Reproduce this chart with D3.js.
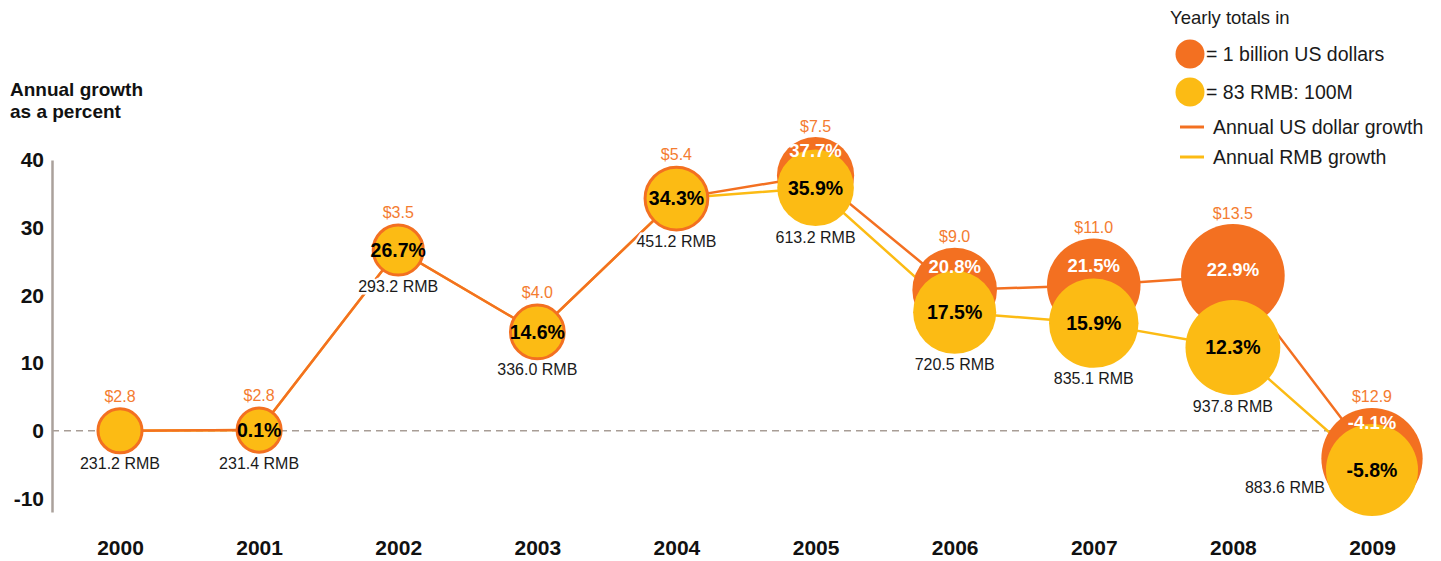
<!DOCTYPE html>
<html>
<head>
<meta charset="utf-8">
<script src="https://cdn.jsdelivr.net/npm/d3@7"></script>
<style>
  body { margin: 0; background: #fff; }
  svg { display: block; font-family: "Liberation Sans", Arial, sans-serif; }
</style>
</head>
<body>
<svg id="chart" width="1441" height="561"></svg>
<script>
// values
const years = [2000, 2001, 2002, 2003, 2004, 2005, 2006, 2007, 2008, 2009];
const usdGrowth = [0, 0.1, 26.7, 14.6, 34.3, 37.7, 20.8, 21.5, 22.9, -4.1];
const rmbGrowth = [0, 0.1, 26.7, 14.6, 34.3, 35.9, 17.5, 15.9, 12.3, -5.8];
const usdTotals = [2.8, 2.8, 3.5, 4.0, 5.4, 7.5, 9.0, 11.0, 13.5, 12.9];   // billion US dollars
const rmbTotals = [231.2, 231.4, 293.2, 336.0, 451.2, 613.2, 720.5, 835.1, 937.8, 883.6]; // RMB 100M
const yTicks = [-10, 0, 10, 20, 30, 40];
const rmbPerBillion = 83;

const orange = '#f37021';
const yellow = '#fcbb14';
const orangeText = '#f47c30';

const svg = d3.select('#chart');

const x = d3.scalePoint().domain(years).range([120, 1372]);
const y = d3.scaleLinear().domain([-12, 40]).range([512, 160]);
const r = d3.scaleSqrt().domain([0, 1]).range([0, 14.1]);

const rows = years.map((yr, i) => ({
	year: yr,
	usd: usdGrowth[i],
	rmb: rmbGrowth[i],
	usdTotal: usdTotals[i],
	rmbTotal: rmbTotals[i],
	first: i === 0,
	same: usdGrowth[i] === rmbGrowth[i]
}));
rows.forEach(d => {
	d.cx = x(d.year);
	d.oy = y(d.usd);
	d.yy = y(d.rmb);
	d.or = r(d.usdTotal);
	d.yr = r(d.rmbTotal / rmbPerBillion);
	if (d.same) d.yr -= 1.5; // yellow sits inside the orange ring
});

// axis title
svg.append('text')
	.attr('x', 10).attr('y', 96)
	.style('font-weight', 'bold').style('font-size', '19px').attr('fill', '#111')
	.selectAll('tspan')
	.data(['Annual growth', 'as a percent'])
	.join('tspan')
	.attr('x', 10)
	.attr('dy', (d, i) => i ? 22 : 0)
	.text(d => d);

// zero line
svg.append('line')
	.attr('x1', 52).attr('x2', x(2009))
	.attr('y1', y(0)).attr('y2', y(0))
	.attr('stroke', '#a89d96').attr('stroke-width', 1.6)
	.attr('stroke-dasharray', '7,5');

// y axis
const yAxis = svg.append('g')
	.attr('transform', 'translate(52,0)')
	.call(d3.axisLeft(y).tickValues(yTicks).tickSize(0).tickSizeOuter(0).tickPadding(8).tickFormat(d3.format('d')));
yAxis.select('.domain').attr('stroke', '#aaa19b').attr('stroke-width', 2.5);
yAxis.selectAll('text')
	.attr('font-family', '"Liberation Sans", Arial, sans-serif')
	.style('font-size', '21px').style('font-weight', 'bold').attr('fill', '#111')
	.text(d => d < 0 ? '-' + Math.abs(d) : d);

// x axis (years)
const xAxis = svg.append('g')
	.attr('transform', 'translate(0,540)')
	.call(d3.axisBottom(x).tickSize(0).tickPadding(0));
xAxis.select('.domain').remove();
xAxis.selectAll('text')
	.attr('font-family', '"Liberation Sans", Arial, sans-serif')
	.style('font-size', '21px').style('font-weight', 'bold').attr('fill', '#111');

// growth lines, behind the circles
const rmbLine = d3.line().x(d => d.cx).y(d => d.yy);
const usdLine = d3.line().x(d => d.cx).y(d => d.oy);
svg.append('path').datum(rows).attr('d', rmbLine)
	.attr('fill', 'none').attr('stroke', yellow).attr('stroke-width', 2.5);
svg.append('path').datum(rows).attr('d', usdLine)
	.attr('fill', 'none').attr('stroke', orange).attr('stroke-width', 2.5);

// US dollar circles (when the growth is the same they show as the ring round the yellow)
svg.selectAll('.usd-dot')
	.data(rows.filter(d => !d.same))
	.join('circle')
	.attr('class', 'usd-dot')
	.attr('cx', d => d.cx).attr('cy', d => d.oy)
	.attr('r', d => d.or)
	.attr('fill', orange);

// RMB circles
svg.selectAll('.rmb-dot')
	.data(rows)
	.join('circle')
	.attr('class', 'rmb-dot')
	.attr('cx', d => d.cx).attr('cy', d => d.yy)
	.attr('r', d => d.yr)
	.attr('fill', yellow)
	.attr('stroke', d => d.same ? orange : 'none')
	.attr('stroke-width', 3);

// dollar totals above the orange circle
svg.selectAll('.usd-total')
	.data(rows)
	.join('text')
	.attr('class', 'usd-total')
	.attr('x', d => d.cx).attr('y', d => d.oy - d.or - 11)
	.attr('dy', '0.35em')
	.attr('text-anchor', 'middle')
	.style('font-size', '16px').attr('fill', orangeText)
	.text(d => '$' + d.usdTotal.toFixed(1));

// RMB totals under the yellow circle (left of it if no room below)
const plotBottom = y(-10);
svg.selectAll('.rmb-total')
	.data(rows)
	.join('text')
	.attr('class', 'rmb-total')
	.each(function (d) {
		const below = d.yy + d.yr + 11 < plotBottom;
		d3.select(this)
			.attr('x', below ? d.cx : d.cx - d.yr - 1)
			.attr('y', below ? d.yy + d.yr + 11 : d.yy + 17)
			.attr('text-anchor', below ? 'middle' : 'end');
	})
	.attr('dy', '0.35em')
	.style('font-size', '16px').attr('fill', '#1a1a1a')
	.attr('stroke', '#fff').attr('stroke-width', 5).attr('paint-order', 'stroke')
	.text(d => d.rmbTotal.toFixed(1) + ' RMB');

// growth labels
const pct = v => v.toFixed(1) + '%';
svg.selectAll('.usd-pct')
	.data(rows.filter(d => !d.same))
	.join('text')
	.attr('class', 'usd-pct')
	.attr('x', d => d.cx)
	.attr('y', d => Math.min(d.oy, ((d.oy - d.or) + (d.yy - d.yr)) / 2 + 7))
	.attr('dy', '0.35em')
	.attr('text-anchor', 'middle')
	.style('font-size', '18.5px').style('font-weight', 'bold').attr('fill', '#fff')
	.text(d => pct(d.usd));

svg.selectAll('.rmb-pct')
	.data(rows.filter(d => !d.first))
	.join('text')
	.attr('class', 'rmb-pct')
	.attr('x', d => d.cx).attr('y', d => d.yy)
	.attr('dy', '0.35em')
	.attr('text-anchor', 'middle')
	.style('font-size', '19.5px').style('font-weight', 'bold').attr('fill', '#000')
	.text(d => pct(d.rmb));

// legend
const legend = svg.append('g').attr('transform', 'translate(1170,0)');
legend.append('text').attr('x', 0).attr('y', 18).attr('dy', '0.35em')
	.style('font-size', '18.5px').attr('fill', '#1a1a1a').text('Yearly totals in');
const legendItems = [
	{ kind: 'dot', color: orange, label: '= 1 billion US dollars', y: 54 },
	{ kind: 'dot', color: yellow, label: '= 83 RMB: 100M', y: 92 },
	{ kind: 'line', color: orange, label: 'Annual US dollar growth', y: 127 },
	{ kind: 'line', color: yellow, label: 'Annual RMB growth', y: 157 }
];
legendItems.forEach(item => {
	if (item.kind === 'dot') {
		legend.append('circle').attr('cx', 20).attr('cy', item.y).attr('r', 14.5).attr('fill', item.color);
		legend.append('text').attr('x', 36).attr('y', item.y).attr('dy', '0.35em')
			.style('font-size', '19.5px').attr('fill', '#1a1a1a').text(item.label);
	} else {
		legend.append('line').attr('x1', 10).attr('x2', 34).attr('y1', item.y).attr('y2', item.y)
			.attr('stroke', item.color).attr('stroke-width', 3);
		legend.append('text').attr('x', 43).attr('y', item.y).attr('dy', '0.35em')
			.style('font-size', '19.5px').attr('fill', '#1a1a1a').text(item.label);
	}
});
</script>
</body>
</html>
